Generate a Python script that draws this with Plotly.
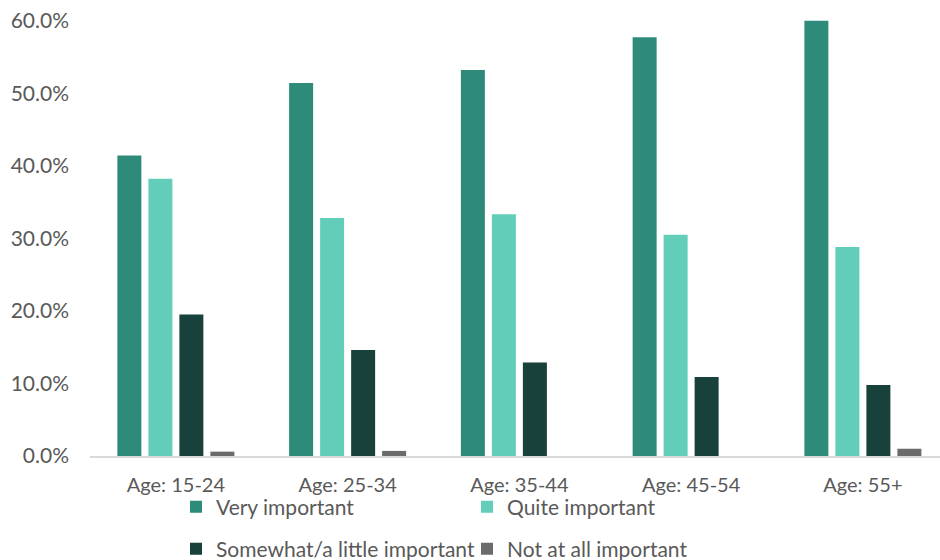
import plotly.graph_objects as go

# Share of respondents by age band and importance rating
categories = ["Age: 15-24", "Age: 25-34", "Age: 35-44", "Age: 45-54", "Age: 55+"]
very_important = [0.414, 0.514, 0.532, 0.577, 0.600]
quite_important = [0.382, 0.328, 0.333, 0.305, 0.288]
somewhat_important = [0.195, 0.146, 0.129, 0.109, 0.098]
not_important = [0.006, 0.007, 0.0, 0.0, 0.010]

series = [
    ("Very important", very_important, "#2E8B7A", "legend"),
    ("Quite important", quite_important, "#62CDB9", "legend"),
    ("Somewhat/a little important", somewhat_important, "#17413A", "legend2"),
    ("Not at all important", not_important, "#6B6B6B", "legend2"),
]

FONT = "Lato"
GREY = "#595959"

fig = go.Figure()
for name, vals, color, leg in series:
    fig.add_trace(go.Bar(
        x=categories, y=vals, name=name,
        marker=dict(color=color, line=dict(width=0)),
        legend=leg,
        hovertemplate="%{x}<br>" + name + ": %{y:.1%}<extra></extra>",
    ))

legend_style = dict(
    orientation="h",
    xref="container", yref="container",
    xanchor="left", yanchor="middle",
    font=dict(family=FONT, size=21, color=GREY),
    entrywidth=246, entrywidthmode="pixels",
    itemwidth=30,
    bgcolor="rgba(0,0,0,0)",
    traceorder="normal",
)

fig.update_layout(
    width=940, height=560,
    margin=dict(l=90, r=0, t=17, b=104, autoexpand=False),
    paper_bgcolor="white", plot_bgcolor="white",
    barmode="group",
    bargap=0.278, bargroupgap=0.226,
    font=dict(family=FONT, size=21, color=GREY),
    xaxis=dict(
        range=[-0.5, 4.449],
        showline=True, linecolor="#D9D9D9", linewidth=2,
        showgrid=False, ticks="", ticklabelstandoff=10,
        tickfont=dict(family=FONT, size=20, color=GREY),
        fixedrange=True,
    ),
    yaxis=dict(
        range=[0, 0.605],
        tickvals=[0, 0.1, 0.2, 0.3, 0.4, 0.5, 0.6],
        tickformat=".1%",
        showgrid=False, zeroline=False, showline=False, ticks="",
        ticklabelstandoff=20,
        tickfont=dict(family=FONT, size=21, color=GREY),
        fixedrange=True,
    ),
    legend=dict(legend_style, x=176 / 940, y=1 - 507 / 560),
    legend2=dict(legend_style, x=176 / 940, y=1 - 549 / 560),
)

fig.write_html("out.html")
